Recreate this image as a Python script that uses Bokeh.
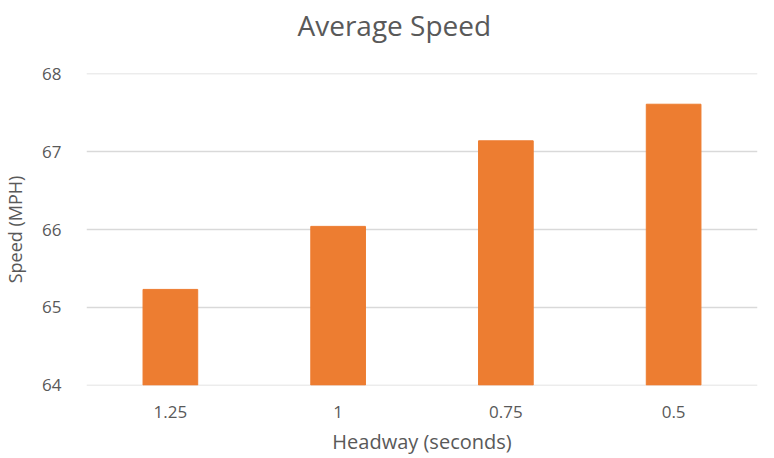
from bokeh.plotting import figure
from bokeh.models import Range1d, FixedTicker, Title
from bokeh.embed import file_html
from bokeh.resources import INLINE

# Average speed by headway setting
headway = ["1.25", "1", "0.75", "0.5"]
speed = [65.23, 66.04, 67.14, 67.61]
y_ticks = [64, 65, 66, 67, 68]

FONT = "Open Sans"
TEXT = "#595959"

p = figure(
    x_range=headway,
    y_range=Range1d(63.995, 68.005),
    width=774,
    height=458,
    output_backend="svg",
    toolbar_location=None,
    min_border_left=82,
    min_border_right=17,
    min_border_top=73,
    min_border_bottom=73,
)

p.vbar(x=headway, top=speed, bottom=64, width=0.326, color="#ED7D31")

# blank strip between the plot area and the title
p.add_layout(Title(text=" ", text_font_size="10px", standoff=17), "above")

p.title.text = "Average Speed"
p.title.align = "left"
p.title.offset = 211
p.title.vertical_align = "bottom"
p.title.text_font = FONT
p.title.text_font_size = "28px"
p.title.text_font_style = "normal"
p.title.text_color = TEXT
p.title.standoff = 0

p.outline_line_color = None
p.background_fill_color = "white"
p.border_fill_color = "white"

p.xgrid.grid_line_color = None
p.ygrid.grid_line_color = "#D9D9D9"
p.ygrid.grid_line_width = 1.3
p.yaxis.ticker = FixedTicker(ticks=y_ticks)

for ax in (p.xaxis, p.yaxis):
    ax.axis_line_color = None
    ax.major_tick_line_color = None
    ax.minor_tick_line_color = None
    ax.major_label_text_font = FONT
    ax.major_label_text_font_size = "17px"
    ax.major_label_text_color = TEXT
    ax.axis_label_text_font = FONT
    ax.axis_label_text_font_style = "normal"
    ax.axis_label_text_color = TEXT

p.xaxis.axis_label = "Headway (seconds)"
p.yaxis.axis_label = "Speed (MPH)"
p.xaxis.axis_label_text_font_size = "20px"
p.yaxis.axis_label_text_font_size = "18px"
p.xaxis.major_label_standoff = 14
p.yaxis.major_label_standoff = 19
p.xaxis.axis_label_standoff = 7
p.yaxis.axis_label_standoff = 12

open("out.html", "w").write(file_html(p, INLINE))
